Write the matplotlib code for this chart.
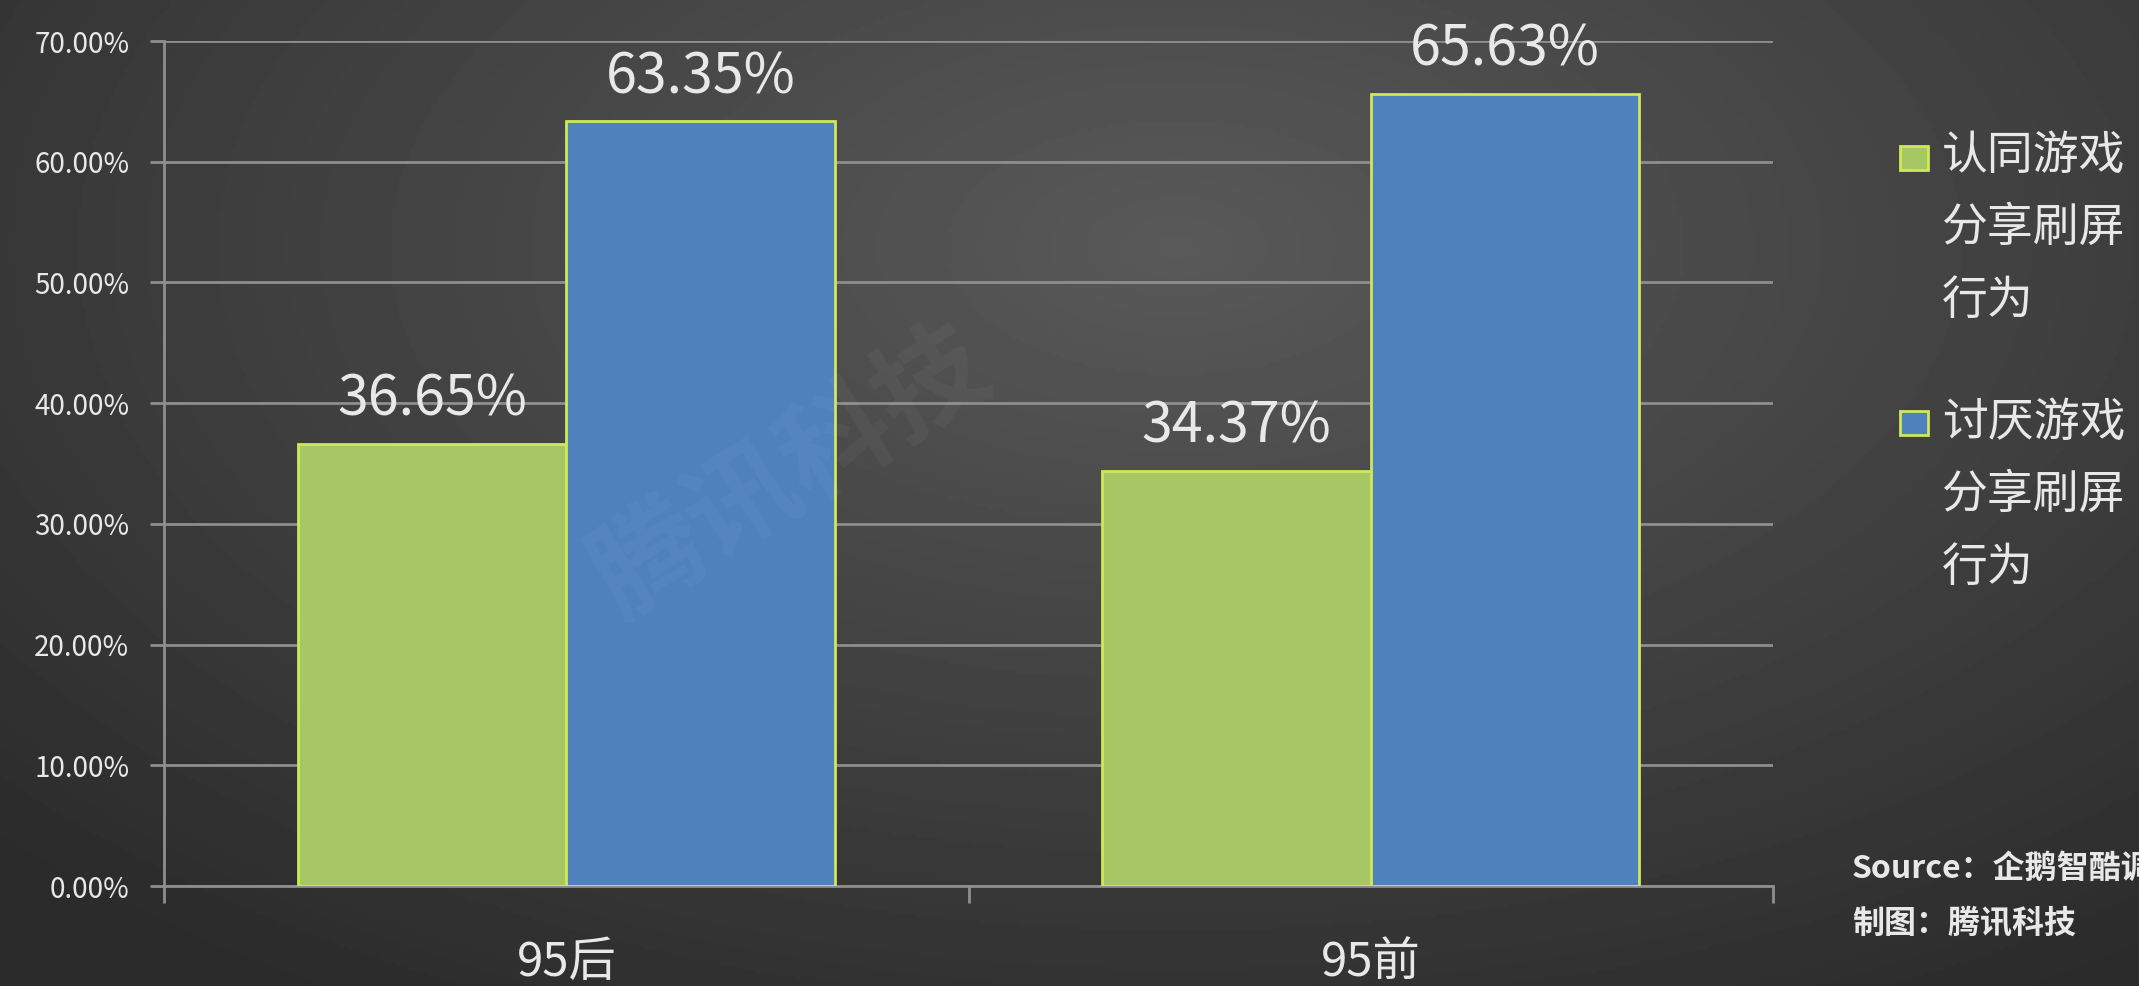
import numpy as np
import matplotlib

matplotlib.use("Agg")
import matplotlib.pyplot as plt
from matplotlib.patches import Rectangle

plt.rcParams["font.family"] = ["Noto Sans CJK SC", "DejaVu Sans"]

categories = ["95后", "95前"]
series_names = ["认同游戏\n分享刷屏\n行为", "讨厌游戏\n分享刷屏\n行为"]
agree_values = [36.65, 34.37]
dislike_values = [63.35, 65.63]
y_ticks = [0, 10, 20, 30, 40, 50, 60, 70]

GREEN = "#a7c764"
BLUE = "#4f81bd"
EDGE = "#cfe85a"
GRID = "#8e8e8e"
TEXT = "#e8e8e8"

fig = plt.figure(figsize=(21.39, 9.86), dpi=100)

# dark radial-gradient backdrop
bg = fig.add_axes([0, 0, 1, 1], zorder=-10)
yy, xx = np.mgrid[0:1:300j, 0:1:600j]
dist = np.sqrt(((xx - 0.55) / 0.75) ** 2 + ((yy - 0.25) / 0.9) ** 2)
shade = np.clip(0.35 - 0.18 * dist, 0.17, 0.35)
bg.imshow(shade, cmap="gray", vmin=0, vmax=1, aspect="auto", extent=[0, 1, 1, 0])
bg.set_axis_off()

ax = fig.add_axes([0.0767, 0.1014, 0.7522, 0.857])
ax.set_facecolor("none")

x = np.arange(len(categories))
width = 0.334
bars_a = ax.bar(x - width / 2, agree_values, width, color=GREEN, edgecolor=EDGE,
                linewidth=2, zorder=3)
bars_b = ax.bar(x + width / 2, dislike_values, width, color=BLUE, edgecolor=EDGE,
                linewidth=2, zorder=3)

for bars in (bars_a, bars_b):
    for bar in bars:
        h = bar.get_height()
        ax.annotate(f"{h:.2f}%", (bar.get_x() + bar.get_width() / 2, h),
                    xytext=(0, 11), textcoords="offset points",
                    ha="center", va="bottom", fontsize=40, color=TEXT)

ax.set_xlim(-0.5, 1.5)
ax.set_ylim(0, 70)
ax.set_yticks(y_ticks)
ax.set_yticklabels([f"{t:.2f}%" for t in y_ticks], fontsize=20, color=TEXT)
ax.yaxis.grid(True, color=GRID, linewidth=2, zorder=0)
ax.tick_params(axis="y", length=10, width=2, color=GRID, pad=15)

ax.set_xticks(x)
ax.set_xticklabels(categories, fontsize=34, color=TEXT)
ax.set_xticks([-0.5, 0.5, 1.5], minor=True)
ax.tick_params(axis="x", which="major", length=0, pad=38)
ax.tick_params(axis="x", which="minor", length=12, width=2, color=GRID)

for side in ("top", "right"):
    ax.spines[side].set_visible(False)
for side in ("left", "bottom"):
    ax.spines[side].set_color(GRID)
    ax.spines[side].set_linewidth(2)

# legend drawn by hand to match the stacked labels
legend_rows = [(GREEN, 0.8276, 0.8671), (BLUE, 0.5588, 0.5963)]
for (color, sq_bottom, txt_top), name in zip(legend_rows, series_names):
    fig.patches.append(Rectangle((1900 / 2139, sq_bottom), 28 / 2139, 24 / 986,
                                 transform=fig.transFigure, facecolor=color,
                                 edgecolor=EDGE, linewidth=2))
    fig.text(1942 / 2139, txt_top, name, fontsize=33, color=TEXT,
             va="top", ha="left", linespacing=1.64)

# source note runs off the right edge, as in the original
fig.text(1852 / 2139, 1 - 869 / 986, "Source：企鹅智酷调查", fontsize=23,
         color=TEXT, va="center", ha="left", style="italic", fontweight="bold")
fig.text(1852 / 2139, 1 - 923 / 986, "制图：腾讯科技", fontsize=23,
         color=TEXT, va="center", ha="left", style="italic", fontweight="bold")

# faint watermark
fig.text(0.37, 0.52, "腾讯科技", fontsize=80, color="white", alpha=0.04,
         rotation=32, ha="center", va="center", fontweight="bold")

fig.savefig("out.png", dpi=100)
plt.close(fig)
